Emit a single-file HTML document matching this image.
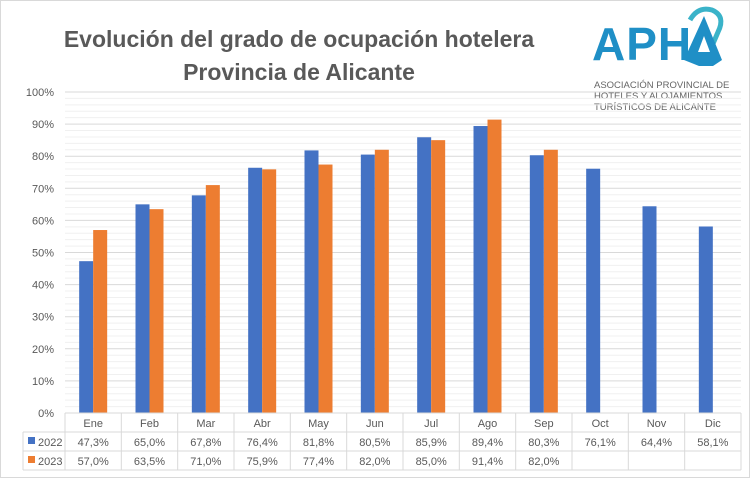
<!DOCTYPE html>
<html><head><meta charset="utf-8"><style>
body{margin:0;background:#fff}
svg{display:block;font-family:"Liberation Sans",sans-serif}
</style></head><body>
<svg width="750" height="478" viewBox="0 0 750 478" xmlns="http://www.w3.org/2000/svg">
<rect x="0.5" y="0.5" width="749" height="477" fill="#fff" stroke="#d9d9d9"/>
<text x="299" y="47" text-anchor="middle" font-size="23" font-weight="bold" fill="#595959">Evolución del grado de ocupación hotelera</text>
<text x="299" y="80" text-anchor="middle" font-size="23" font-weight="bold" fill="#595959">Provincia de Alicante</text>
<g>
<text x="592" y="60" font-size="46" font-weight="bold" fill="#1f8fc6" letter-spacing="1">APH</text>
<path d="M690 20 q8 -14 22 -10 q14 6 6 22 l-6 14" fill="none" stroke="#3ab3c9" stroke-width="5"/>
<path d="M684 60 l20 -44 l18 44 l-9 6 l-14 0z" fill="#1f8fc6"/>
<path d="M698 52 l6 -16 l6 16z" fill="#fff"/>
<text x="594" y="88" font-size="9.5" fill="#666">ASOCIACIÓN PROVINCIAL DE</text>
<text x="594" y="99" font-size="9.5" fill="#666">HOTELES Y ALOJAMIENTOS</text>
<text x="594" y="110" font-size="9.5" fill="#666">TURÍSTICOS DE ALICANTE</text>
</g>
<path stroke="#f0f0f0" stroke-width="1" fill="none" d="M65 406.58H741M65 400.16H741M65 393.74H741M65 387.32H741M65 374.48H741M65 368.06H741M65 361.64H741M65 355.22H741M65 342.38H741M65 335.96H741M65 329.54H741M65 323.12H741M65 310.28H741M65 303.86H741M65 297.44H741M65 291.02H741M65 278.18H741M65 271.76H741M65 265.34H741M65 258.92H741M65 246.08H741M65 239.66H741M65 233.24H741M65 226.82H741M65 213.98H741M65 207.56H741M65 201.14H741M65 194.72H741M65 181.88H741M65 175.46H741M65 169.04H741M65 162.62H741M65 149.78H741M65 143.36H741M65 136.94H741M65 130.52H741M65 117.68H741M65 111.26H741M65 104.84H741M65 98.42H741"/>
<path stroke="#d9d9d9" stroke-width="1" fill="none" d="M65 380.9H741M65 348.8H741M65 316.7H741M65 284.6H741M65 252.5H741M65 220.4H741M65 188.3H741M65 156.2H741M65 124.1H741M65 92H741"/>
<g font-size="11" fill="#595959" text-anchor="end">
<text x="54" y="417">0%</text><text x="54" y="384.9">10%</text><text x="54" y="352.8">20%</text><text x="54" y="320.7">30%</text><text x="54" y="288.6">40%</text><text x="54" y="256.5">50%</text><text x="54" y="224.4">60%</text><text x="54" y="192.3">70%</text><text x="54" y="160.2">80%</text><text x="54" y="128.1">90%</text><text x="54" y="96">100%</text>
</g>
<g fill="#4472c4">
<rect x="79.17" y="261.17" width="14" height="151.83"/>
<rect x="135.5" y="204.35" width="14" height="208.65"/>
<rect x="191.83" y="195.36" width="14" height="217.64"/>
<rect x="248.17" y="167.76" width="14" height="245.24"/>
<rect x="304.5" y="150.42" width="14" height="262.58"/>
<rect x="360.83" y="154.59" width="14" height="258.41"/>
<rect x="417.17" y="137.26" width="14" height="275.74"/>
<rect x="473.5" y="126.03" width="14" height="286.97"/>
<rect x="529.83" y="155.24" width="14" height="257.76"/>
<rect x="586.17" y="168.72" width="14" height="244.28"/>
<rect x="642.5" y="206.28" width="14" height="206.72"/>
<rect x="698.83" y="226.5" width="14" height="186.5"/>
</g>
<g fill="#ed7d31">
<rect x="93.17" y="230.03" width="14" height="182.97"/>
<rect x="149.5" y="209.16" width="14" height="203.84"/>
<rect x="205.83" y="185.09" width="14" height="227.91"/>
<rect x="262.17" y="169.36" width="14" height="243.64"/>
<rect x="318.5" y="164.55" width="14" height="248.45"/>
<rect x="374.83" y="149.78" width="14" height="263.22"/>
<rect x="431.17" y="140.15" width="14" height="272.85"/>
<rect x="487.5" y="119.61" width="14" height="293.39"/>
<rect x="543.83" y="149.78" width="14" height="263.22"/>
</g>
<path stroke="#d9d9d9" stroke-width="1" fill="none" d="M65 413H741M23 432H741M23 451H741M23 470H741M23 432V470M65 413V470M121.33 413V470M177.67 413V470M234 413V470M290.33 413V470M346.67 413V470M403 413V470M459.33 413V470M515.67 413V470M572 413V470M628.33 413V470M684.67 413V470M741 413V470"/>
<rect x="28" y="437" width="7" height="7" fill="#4472c4"/>
<rect x="28" y="456" width="7" height="7" fill="#ed7d31"/>
<g font-size="11" fill="#595959">
<text x="38" y="446">2022</text><text x="38" y="465">2023</text>
</g>
<g font-size="11" fill="#595959" text-anchor="middle">
<text x="93.17" y="427">Ene</text><text x="149.5" y="427">Feb</text><text x="205.83" y="427">Mar</text><text x="262.17" y="427">Abr</text><text x="318.5" y="427">May</text><text x="374.83" y="427">Jun</text><text x="431.17" y="427">Jul</text><text x="487.5" y="427">Ago</text><text x="543.83" y="427">Sep</text><text x="600.17" y="427">Oct</text><text x="656.5" y="427">Nov</text><text x="712.83" y="427">Dic</text>
<text x="93.17" y="446">47,3%</text><text x="149.5" y="446">65,0%</text><text x="205.83" y="446">67,8%</text><text x="262.17" y="446">76,4%</text><text x="318.5" y="446">81,8%</text><text x="374.83" y="446">80,5%</text><text x="431.17" y="446">85,9%</text><text x="487.5" y="446">89,4%</text><text x="543.83" y="446">80,3%</text><text x="600.17" y="446">76,1%</text><text x="656.5" y="446">64,4%</text><text x="712.83" y="446">58,1%</text>
<text x="93.17" y="465">57,0%</text><text x="149.5" y="465">63,5%</text><text x="205.83" y="465">71,0%</text><text x="262.17" y="465">75,9%</text><text x="318.5" y="465">77,4%</text><text x="374.83" y="465">82,0%</text><text x="431.17" y="465">85,0%</text><text x="487.5" y="465">91,4%</text><text x="543.83" y="465">82,0%</text>
</g>
</svg>
</body></html>
